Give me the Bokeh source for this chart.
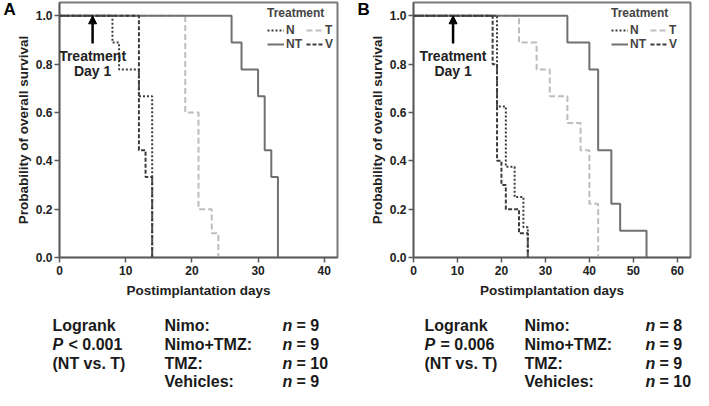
from bokeh.plotting import figure
from bokeh.layouts import column, row
from bokeh.models import (Range1d, Legend, LegendItem, Arrow, NormalHead, Label,
                          FixedTicker, PrintfTickFormatter)
from bokeh.embed import file_html
from bokeh.resources import INLINE
from bokeh.core.properties import value

FONT = "Liberation Sans"

# ---------------- data: panel A ----------------
a_n_t = [0, 8, 9, 12, 14]
a_n_s = [1.0, 0.889, 0.778, 0.667, 0.0]
a_nt_t = [0, 26, 27.5, 30, 31, 32, 33]
a_nt_s = [1.0, 0.889, 0.778, 0.667, 0.444, 0.333, 0.0]
a_t_t = [0, 19, 21, 23, 24]
a_t_s = [1.0, 0.6, 0.2, 0.1, 0.0]
a_v_t = [0, 12, 13, 14]
a_v_s = [1.0, 0.444, 0.333, 0.0]

# ---------------- data: panel B ----------------
b_n_t = [0, 19, 21, 23, 25, 26]
b_n_s = [1.0, 0.625, 0.375, 0.25, 0.125, 0.0]
b_nt_t = [0, 35, 40, 42, 45, 47, 53]
b_nt_s = [1.0, 0.889, 0.778, 0.444, 0.222, 0.111, 0.0]
b_t_t = [0, 24, 28, 31, 35, 38, 40, 42]
b_t_s = [1.0, 0.889, 0.778, 0.667, 0.556, 0.444, 0.222, 0.0]
b_v_t = [0, 18, 19, 20, 21, 24, 26]
b_v_s = [1.0, 0.8, 0.4, 0.3, 0.2, 0.1, 0.0]

a_xticks = [0, 10, 20, 30, 40]
b_xticks = [0, 10, 20, 30, 40, 50, 60]
y_ticks = [0.0, 0.2, 0.4, 0.6, 0.8, 1.0]

groups = ["Nimo:", "Nimo+TMZ:", "TMZ:", "Vehicles:"]
a_counts = [9, 9, 10, 9]
b_counts = [8, 9, 9, 10]
a_p = "< 0.001"
b_p = "= 0.006"
comparison = "(NT vs. T)"

STYLES = {
    "N": dict(color="#3c3c3c", dash="2 2", width=2.0),
    "T": dict(color="#bdbdbd", dash="6 3", width=2.0),
    "NT": dict(color="#707070", dash="solid", width=2.0),
    "V": dict(color="#3c3c3c", dash="4 2", width=2.0),
}


def panel(letter, xmax, xticks, series, arrow_x, width, left, right,
          letter_x, legend_x):
    p = figure(width=width, height=300, x_range=Range1d(0, xmax),
               y_range=Range1d(0, 1.055), output_backend="svg",
               toolbar_location=None, min_border_left=left,
               min_border_right=right, min_border_top=2, min_border_bottom=38)
    p.xgrid.visible = False
    p.ygrid.visible = False
    p.outline_line_color = "#7a7a7a"
    p.outline_line_width = 2
    rs = {}
    for key in ["T", "NT", "N", "V"]:
        t, s = series[key]
        st = STYLES[key]
        rs[key] = p.step(t, s, mode="after", line_color=st["color"],
                         line_dash=st["dash"], line_width=st["width"])
    for ax in (p.xaxis, p.yaxis):
        ax.axis_line_color = "#5a5a5a"
        ax.axis_line_width = 1.5
        ax.major_tick_line_color = "#5a5a5a"
        ax.major_tick_line_width = 1.5
        ax.major_tick_out = 5
        ax.major_tick_in = 0
        ax.minor_tick_line_color = None
        ax.major_label_text_font = FONT
        ax.major_label_text_font_style = "bold"
        ax.major_label_text_font_size = "12px"
        ax.major_label_text_color = "#222222"
        ax.axis_label_text_font = FONT
        ax.axis_label_text_font_style = "bold"
        ax.axis_label_text_font_size = "13.5px"
        ax.axis_label_text_color = "#222222"
        ax.major_label_standoff = 3
        ax.axis_label_standoff = 5
    p.yaxis.axis_label_standoff = 2
    p.yaxis.major_label_standoff = 2
    p.xaxis.ticker = FixedTicker(ticks=xticks)
    p.yaxis.ticker = FixedTicker(ticks=y_ticks)
    p.yaxis.formatter = PrintfTickFormatter(format="%.1f")
    p.xaxis.axis_label = "Postimplantation days"
    p.yaxis.axis_label = "Probability of overall survival"

    items = [LegendItem(label="N", renderers=[rs["N"]]),
             LegendItem(label="NT", renderers=[rs["NT"]]),
             LegendItem(label="T", renderers=[rs["T"]]),
             LegendItem(label="V", renderers=[rs["V"]])]
    leg = Legend(items=items, ncols=2, title="Treatment", location=(legend_x, 204),
                 title_text_font=FONT, title_text_font_style="bold",
                 title_text_font_size="12px", label_text_font=FONT,
                 label_text_font_style="bold", label_text_font_size="12px",
                 glyph_width=17, glyph_height=12, label_height=12,
                 label_standoff=2, spacing=0, padding=2, margin=0,
                 title_standoff=3, border_line_alpha=0, background_fill_alpha=0)
    p.add_layout(leg)

    p.add_layout(Arrow(end=NormalHead(size=8, fill_color="black", line_color="black"),
                       x_start=arrow_x, y_start=0.885, x_end=arrow_x, y_end=1.0,
                       line_color="black", line_width=2.5))
    for txt, yv in (("Treatment", 0.832), ("Day 1", 0.77)):
        p.add_layout(Label(x=arrow_x, y=yv, text=txt, text_align="center",
                           text_baseline="middle", text_font=FONT,
                           text_font_style="bold", text_font_size="14px",
                           text_color="#222222"))
    p.add_layout(Label(x=letter_x, y=258, x_units="screen", y_units="screen",
                       text=letter, text_align="left", text_line_height=0.8,
                       text_baseline="top", text_font=FONT,
                       text_font_style="bold", text_font_size="17px",
                       text_color="black"), "left")
    return p


pa = panel("A", 42, a_xticks,
           {"N": (a_n_t, a_n_s), "NT": (a_nt_t, a_nt_s),
            "T": (a_t_t, a_t_s), "V": (a_v_t, a_v_s)},
           5, 347, 51, 10, 3, 206)
pb = panel("B", 63, b_xticks,
           {"N": (b_n_t, b_n_s), "NT": (b_nt_t, b_nt_s),
            "T": (b_t_t, b_t_s), "V": (b_v_t, b_v_s)},
           9, 346, 66, 3, 3, 196)

# ---------------- bottom text ----------------
txt = figure(width=693, height=90, x_range=Range1d(0, 693), y_range=Range1d(90, 0),
             x_axis_type=None, y_axis_type=None, output_backend="svg",
             toolbar_location=None, min_border=0)
txt.outline_line_color = None
txt.xgrid.visible = False
txt.ygrid.visible = False

rows_y = [25, 44, 63, 81]
common = dict(text_font=value(FONT), text_font_size="16px", text_baseline="middle",
              text_align="left", text_color="#1a1a1a")


def block(x0, x1, x2, pstr, counts):
    txt.text(x=[x0, x0 + 16, x0], y=[rows_y[0], rows_y[1], rows_y[2]],
             text=["Logrank", pstr, comparison], text_font_style="bold", **common)
    txt.text(x=[x0], y=[rows_y[1]], text=["P"], text_font_style="bold italic", **common)
    txt.text(x=[x1] * 4, y=rows_y, text=groups, text_font_style="bold", **common)
    txt.text(x=[x2] * 4, y=rows_y, text=["n"] * 4, text_font_style="bold italic", **common)
    txt.text(x=[x2 + 14] * 4, y=rows_y, text=["= %d" % c for c in counts],
             text_font_style="bold", **common)


block(52, 164, 282, a_p, a_counts)
block(424, 524, 645, b_p, b_counts)

layout = column(row(pa, pb), txt)
open("out.html", "w").write(file_html(layout, INLINE))
